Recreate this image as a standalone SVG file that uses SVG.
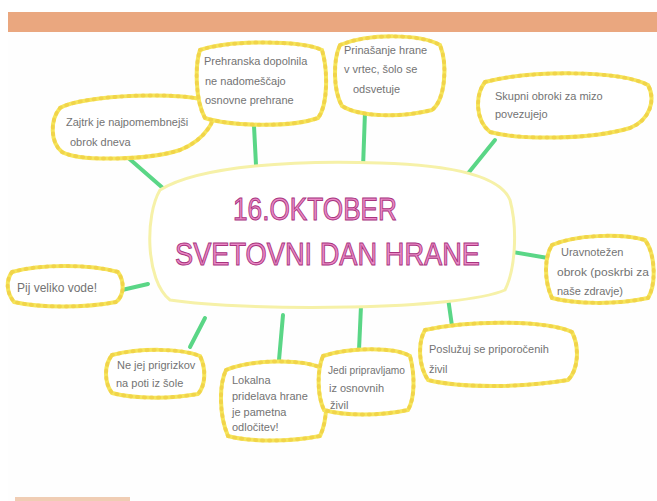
<svg xmlns="http://www.w3.org/2000/svg" width="657" height="501" viewBox="0 0 657 501">
<style>
.box{fill:#fff;stroke:#f6e55a;stroke-width:4;}
.bump{fill:none;stroke:#ecc63e;stroke-width:4;stroke-dasharray:1 6;stroke-linecap:round;opacity:0.55;}
.t{font-family:"Liberation Sans",Arial,sans-serif;font-size:11px;fill:#737373;}
.title{font-family:"Liberation Sans",Arial,sans-serif;font-size:32px;fill:#ec8ac6;stroke:#a8357f;stroke-width:1;}
.con line{stroke:#5ad686;stroke-width:4;stroke-linecap:round;}
</style>
<rect x="0" y="0" width="657" height="501" fill="#fff"/>
<rect x="8" y="12" width="649" height="20" fill="#eaa77f"/>
<rect x="8" y="32" width="649" height="469" fill="#fefefe"/>
<rect x="15" y="497" width="115" height="4" fill="#f0cdb4"/>
<g id="connectors" class="con">
<line x1="125" y1="155" x2="180" y2="203"/>
<line x1="254" y1="126" x2="256" y2="165"/>
<line x1="365" y1="112" x2="363" y2="168"/>
<line x1="495" y1="140" x2="453" y2="192"/>
<line x1="507" y1="251" x2="548" y2="258"/>
<line x1="122" y1="290" x2="148" y2="284"/>
<line x1="205" y1="318" x2="190" y2="347"/>
<line x1="283" y1="315" x2="279" y2="360"/>
<line x1="361" y1="306" x2="359" y2="350"/>
<line x1="448" y1="298" x2="452" y2="326"/>
</g>
<g id="center">
<path d="M160,190 C200,165 300,160 380,163 C450,165 500,175 510,200 C518,230 515,270 505,290 C460,310 250,312 170,300 C145,280 145,215 160,190 Z" fill="#fff" stroke="#f6f1a8" stroke-width="3"/>
<text class="title" x="233" y="220" textLength="164" lengthAdjust="spacingAndGlyphs">16.OKTOBER</text>
<text class="title" x="175" y="265" textLength="305" lengthAdjust="spacingAndGlyphs">SVETOVNI DAN HRANE</text>
</g>
<g id="n1">
<path class="box" d="M60,108 C80,95 190,90 212,103 C220,118 205,140 180,150 C150,160 80,162 62,152 C50,142 50,120 60,108 Z"/>
<path class="bump" d="M60,108 C80,95 190,90 212,103 C220,118 205,140 180,150 C150,160 80,162 62,152 C50,142 50,120 60,108 Z"/>
<text class="t" x="66" y="126">Zajtrk je najpomembnejši</text>
<text class="t" x="70" y="146">obrok dneva</text>
</g>
<g id="n2">
<path class="box" d="M200,50 C230,40 300,40 322,50 C328,70 328,105 318,118 C290,128 230,126 205,118 C195,100 195,65 200,50 Z"/>
<path class="bump" d="M200,50 C230,40 300,40 322,50 C328,70 328,105 318,118 C290,128 230,126 205,118 C195,100 195,65 200,50 Z"/>
<text class="t" x="204" y="65">Prehranska dopolnila</text>
<text class="t" x="205" y="85">ne nadomeščajo</text>
<text class="t" x="205" y="104">osnovne prehrane</text>
</g>
<g id="n3">
<path class="box" d="M340,45 C370,33 420,34 440,45 C448,65 445,100 432,110 C400,118 360,117 342,106 C333,90 333,60 340,45 Z"/>
<path class="bump" d="M340,45 C370,33 420,34 440,45 C448,65 445,100 432,110 C400,118 360,117 342,106 C333,90 333,60 340,45 Z"/>
<text class="t" x="344" y="54">Prinašanje hrane</text>
<text class="t" x="344" y="73">v vrtec, šolo se</text>
<text class="t" x="353" y="93">odsvetuje</text>
</g>
<g id="n4">
<path class="box" d="M485,82 C530,70 620,70 648,85 C656,100 650,120 630,128 C590,140 520,140 490,132 C475,120 475,95 485,82 Z"/>
<path class="bump" d="M485,82 C530,70 620,70 648,85 C656,100 650,120 630,128 C590,140 520,140 490,132 C475,120 475,95 485,82 Z"/>
<text class="t" x="495" y="100">Skupni obroki  za mizo</text>
<text class="t" x="495" y="118">povezujejo</text>
</g>
<g id="n5">
<path class="box" d="M552,245 C575,235 620,233 645,240 C656,255 656,285 648,298 C615,305 575,304 552,298 C544,280 544,258 552,245 Z"/>
<path class="bump" d="M552,245 C575,235 620,233 645,240 C656,255 656,285 648,298 C615,305 575,304 552,298 C544,280 544,258 552,245 Z"/>
<text class="t" x="561" y="256">Uravnotežen</text>
<text class="t" x="557" y="276" textLength="92" lengthAdjust="spacingAndGlyphs">obrok (poskrbi za</text>
<text class="t" x="557" y="295">naše zdravje)</text>
</g>
<g id="n6">
<path class="box" d="M12,272 C40,264 90,264 118,272 C125,282 124,296 116,302 C85,308 40,308 14,302 C6,292 6,280 12,272 Z"/>
<path class="bump" d="M12,272 C40,264 90,264 118,272 C125,282 124,296 116,302 C85,308 40,308 14,302 C6,292 6,280 12,272 Z"/>
<text class="t" x="17" y="292" style="font-size:12px">Pij veliko  vode!</text>
</g>
<g id="n7">
<path class="box" d="M112,355 C140,348 180,348 200,356 C206,368 206,385 198,394 C170,399 135,399 112,393 C104,382 104,365 112,355 Z"/>
<path class="bump" d="M112,355 C140,348 180,348 200,356 C206,368 206,385 198,394 C170,399 135,399 112,393 C104,382 104,365 112,355 Z"/>
<text class="t" x="117" y="369">Ne jej prigrizkov</text>
<text class="t" x="116" y="387">na poti iz šole</text>
</g>
<g id="n8">
<path class="box" d="M226,370 C250,360 300,358 322,368 C328,390 328,420 320,436 C290,442 250,442 228,436 C219,415 219,385 226,370 Z"/>
<path class="bump" d="M226,370 C250,360 300,358 322,368 C328,390 328,420 320,436 C290,442 250,442 228,436 C219,415 219,385 226,370 Z"/>
<text class="t" x="232" y="384">Lokalna</text>
<text class="t" x="232" y="400">pridelava hrane</text>
<text class="t" x="232" y="416">je pametna</text>
<text class="t" x="232" y="431">odločitev!</text>
</g>
<g id="n9">
<path class="box" d="M323,356 C350,347 395,347 410,356 C415,375 415,398 408,410 C380,416 345,416 324,410 C317,395 317,370 323,356 Z"/>
<path class="bump" d="M323,356 C350,347 395,347 410,356 C415,375 415,398 408,410 C380,416 345,416 324,410 C317,395 317,370 323,356 Z"/>
<text class="t" x="328" y="374" textLength="77" lengthAdjust="spacingAndGlyphs">Jedi pripravljamo</text>
<text class="t" x="329" y="392">iz osnovnih</text>
<text class="t" x="330" y="409">živil</text>
</g>
<g id="n10">
<path class="box" d="M425,330 C470,320 545,320 572,332 C580,348 578,370 568,380 C520,388 460,388 428,380 C418,365 418,342 425,330 Z"/>
<path class="bump" d="M425,330 C470,320 545,320 572,332 C580,348 578,370 568,380 C520,388 460,388 428,380 C418,365 418,342 425,330 Z"/>
<text class="t" x="429" y="353">Poslužuj se priporočenih</text>
<text class="t" x="429" y="373">živil</text>
</g>
</svg>
